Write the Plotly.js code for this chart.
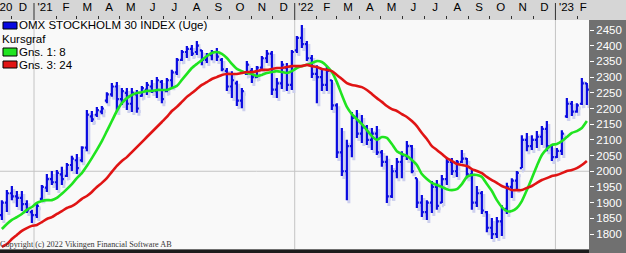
<!DOCTYPE html>
<html><head><meta charset="utf-8">
<script src="https://cdn.plot.ly/plotly-3.0.1.min.js"></script>
<style>html,body{margin:0;padding:0;background:#fff;overflow:hidden}#chart{width:626px;height:253px}</style>
</head><body><div id="chart"></div>
<script>
// ---- data (weekly bars, OMX Stockholm 30) ----
const seriesName = 'OMX STOCKHOLM 30 INDEX (Uge)';
const firstWeek = [2020, 10, 17]; // first weekly bar (UTC y, m0, d)
const high = [1908,1940,1953,1937,1937,1908,1877,1899,1956,1991,
  2001,2004,2014,2026,2049,2055,2080,2195,2192,2205,
  2208,2252,2281,2284,2265,2265,2265,2259,2272,2284,
  2291,2300,2291,2297,2323,2361,2386,2399,2402,2415,
  2386,2377,2386,2393,2361,2329,2319,2288,2265,2351,
  2329,2335,2367,2386,2383,2297,2351,2345,2386,2431,
  2466,2415,2370,2338,2329,2335,2291,2217,2138,2100,
  2189,2195,2179,2147,2138,2144,2068,2049,2020,2042,
  2064,2096,2084,1978,1924,1908,1969,1972,1988,2042,
  2042,2036,2068,2042,2004,1953,1937,1873,1851,1854,
  1892,1963,1978,2001,2115,2122,2115,2128,2144,2160,
  2084,2074,2131,2233,2224,2217,2297,2281];
const low = [1845,1870,1908,1886,1873,1867,1835,1851,1908,1934,
  1956,1940,1956,1982,2001,1991,2029,2064,2157,2173,
  2182,2217,2237,2189,2211,2195,2189,2186,2237,2243,
  2249,2233,2217,2252,2268,2307,2351,2361,2367,2370,
  2338,2345,2354,2351,2319,2256,2233,2208,2201,2307,
  2281,2297,2323,2345,2243,2233,2262,2256,2259,2377,
  2393,2351,2297,2217,2256,2256,2195,2042,1985,1908,
  2045,2106,2090,2084,2068,2052,2014,1899,1915,1978,
  1978,2036,1994,1883,1854,1845,1867,1877,1899,1956,
  1988,1982,2026,1978,1877,1886,1864,1806,1784,1787,
  1794,1864,1915,1940,2010,2064,2068,2074,2084,2064,
  2033,2042,2052,2170,2176,2186,2211,2211];
const open = [1860,1900,1930,1920,1915,1895,1870,1860,1912,1948,
  1975,1965,1990,1985,2020,2035,2035,2075,2175,2180,
  2190,2225,2245,2270,2230,2250,2215,2245,2240,2260,
  2270,2255,2285,2255,2290,2315,2355,2380,2390,2380,
  2385,2355,2370,2380,2355,2320,2270,2280,2225,2310,
  2320,2300,2330,2360,2375,2260,2280,2330,2275,2385,
  2425,2405,2360,2310,2300,2275,2290,2210,2060,2000,
  2080,2170,2120,2140,2100,2120,2060,2030,1920,2000,
  2030,2050,2080,1978,1900,1870,1900,1950,1900,1975,
  2030,2000,2030,2040,1990,1900,1930,1870,1820,1800,
  1840,1880,1950,1970,2010,2100,2080,2100,2110,2135,
  2080,2045,2065,2175,2215,2190,2215,2280];
const close = [1900,1930,1920,1915,1895,1875,1860,1890,1950,1975,
  1965,1995,1975,2020,2040,2010,2075,2180,2165,2195,
  2200,2245,2270,2230,2255,2215,2250,2200,2265,2275,
  2255,2290,2230,2290,2315,2355,2380,2390,2375,2400,
  2355,2370,2380,2365,2325,2270,2290,2225,2255,2340,
  2300,2330,2360,2375,2260,2280,2340,2275,2380,2425,
  2405,2360,2310,2300,2275,2320,2210,2060,2000,2080,
  2170,2120,2140,2100,2120,2060,2030,1920,2000,2030,
  2050,2080,2000,1900,1870,1900,1950,1890,1975,2030,
  2000,2030,2040,1990,1900,1930,1875,1820,1800,1840,
  1880,1950,1970,1995,2100,2080,2100,2110,2135,2080,
  2045,2065,2120,2215,2190,2210,2280,2260];
const ma8 = [1816,1832,1845,1854,1864,1877,1886,1899,1905,1908,
  1908,1915,1928,1943,1959,1978,1994,2017,2042,2068,
  2096,2128,2160,2192,2217,2233,2243,2249,2252,2256,
  2256,2259,2259,2259,2265,2272,2291,2310,2329,2342,
  2354,2367,2377,2380,2374,2361,2342,2326,2319,2313,
  2310,2303,2307,2313,2316,2319,2316,2313,2319,2329,
  2335,2339,2345,2351,2348,2335,2316,2284,2243,2205,
  2182,2166,2150,2131,2112,2100,2109,2106,2087,2064,
  2055,2049,2036,2020,1991,1975,1963,1956,1950,1943,
  1940,1943,1959,1982,1988,1988,1982,1959,1937,1908,
  1886,1873,1873,1883,1905,1940,1978,2017,2052,2071,
  2084,2087,2096,2109,2122,2128,2138,2160];
const ma24 = [1759,1768,1784,1797,1810,1819,1826,1829,1838,1848,
  1854,1864,1873,1883,1889,1899,1912,1921,1934,1950,
  1963,1978,1998,2017,2033,2045,2061,2077,2093,2109,
  2125,2141,2157,2173,2192,2205,2221,2237,2249,2262,
  2275,2284,2294,2300,2307,2310,2310,2310,2313,2316,
  2316,2319,2323,2323,2326,2329,2329,2332,2335,2335,
  2335,2339,2335,2332,2326,2323,2319,2307,2294,2281,
  2275,2272,2268,2259,2246,2233,2221,2208,2198,2192,
  2182,2173,2160,2144,2122,2103,2080,2068,2055,2042,
  2033,2023,2020,2017,2007,2001,1994,1982,1972,1963,
  1953,1947,1940,1940,1940,1947,1953,1963,1972,1978,
  1985,1988,1994,2001,2004,2010,2020,2033];
const yTicks = [1800,1850,1900,1950,2000,2050,2100,2150,2200,2250,2300,2350,2400,2450];
const refLevel = 2000;
const monthLabels = ['20','D',"'21",'F','M','A','M','J','J','A','S','O','N','D',
  "'22",'F','M','A','M','J','J','A','S','O','N','D',"'23",'F'];
const firstMonth = [2020, 10];
const legendLabels = ['Kursgraf', 'Gns. 1: 8', 'Gns. 3: 24'];
const copyright = 'Copyright (c) 2022 Vikingen Financial Software AB';

// ---- geometry / styles ----
const W = 626, H = 253, mL = 0, mR = 37, mT = 20, mB = 4;
const pw = W - mL - mR, ph = H - mT - mB;
const DAY = 86400000;
const xLeft = Date.UTC(2020, 10, 14, 9, 36), xRight = Date.UTC(2023, 1, 17);
const yLo = 1752.3, yHi = 2481.9;
const fmt = ms => new Date(ms).toISOString().slice(0, 19).replace('T', ' ');
const weekMs = Date.UTC(firstWeek[0], firstWeek[1], firstWeek[2]);
const weeks = close.map((_, i) => fmt(weekMs + 7 * i * DAY));

const tickVals = [], minorVals = [], yearStarts = [];
monthLabels.forEach((_, k) => {
  const s = Date.UTC(firstMonth[0], firstMonth[1] + k, 1);
  const e = Date.UTC(firstMonth[0], firstMonth[1] + k + 1, 1);
  const a = Math.max(s, xLeft), b = Math.min(e, xRight);
  tickVals.push(fmt((a + b) / 2));
  if (k > 0) {
    if (new Date(s).getUTCMonth() === 0) yearStarts.push(fmt(s)); else minorVals.push(fmt(s));
  }
});

const font = 'Liberation Sans, Arial, sans-serif';
const blue = '#0a0ae0', green = '#20e420', red = '#e01414', shadow = '#cdd0ee';
const shiftDays = 2 * 7 / 5 * DAY;           // 2 px to the right
const shiftVal = 3 * (yHi - yLo) / ph;        // 3 px down

const traces = [
  {type: 'scatter', x: [], y: [], xaxis: 'x', yaxis: 'y', showlegend: false, hoverinfo: 'skip'},
  {type: 'ohlc', x: weeks, open, high, low, close, xaxis: 'x2', yaxis: 'y2',
   increasing: {line: {color: shadow, width: 3}}, decreasing: {line: {color: shadow, width: 3}},
   tickwidth: 0.4, showlegend: false, hoverinfo: 'skip'},
  {type: 'ohlc', x: weeks, open, high, low, close, xaxis: 'x3', yaxis: 'y3', name: seriesName,
   increasing: {line: {color: blue, width: 2.2}}, decreasing: {line: {color: blue, width: 2.2}},
   tickwidth: 0.4, showlegend: false, hoverinfo: 'skip'},
  {type: 'scatter', mode: 'lines', x: weeks, y: ma8, xaxis: 'x3', yaxis: 'y3', name: legendLabels[1],
   line: {color: green, width: 2.6, shape: 'spline', smoothing: 0.6}, showlegend: false, hoverinfo: 'skip'},
  {type: 'scatter', mode: 'lines', x: weeks, y: ma24, xaxis: 'x3', yaxis: 'y3', name: legendLabels[2],
   line: {color: red, width: 2.6, shape: 'spline', smoothing: 0.6}, showlegend: false, hoverinfo: 'skip'}
];

const px2x = p => p / pw, px2y = p => (H - mB - p) / ph;
const shapes = [
  {type: 'rect', xref: 'paper', yref: 'paper', x0: -0.01, x1: W / pw + 0.01, y0: 1, y1: 1 + mT / ph + 0.01,
   fillcolor: '#d6d6d6', line: {width: 0}, layer: 'below'},
  {type: 'rect', xref: 'paper', yref: 'paper', x0: 0, x1: 1, y0: -mB / ph, y1: -1 / ph,
   fillcolor: '#1c1c1c', line: {width: 0}, layer: 'below'},
  {type: 'line', xref: 'paper', yref: 'y', x0: 0, x1: 1, y0: refLevel, y1: refLevel,
   line: {color: '#c4c4c4', width: 1}, layer: 'below'}
];
yearStarts.forEach(d => {
  shapes.push({type: 'line', xref: 'x', yref: 'paper', x0: d, x1: d, y0: 0, y1: 1,
    line: {color: '#c4c4c4', width: 1}, layer: 'below'});
  shapes.push({type: 'line', xref: 'x', yref: 'paper', x0: d, x1: d, y0: 1, y1: 1 + 17 / ph,
    line: {color: '#303030', width: 1}, layer: 'above'});
});
[[22, 29, blue], [48, 56, green], [61, 68, red]].forEach(([t, b, c]) => {
  shapes.push({type: 'rect', xref: 'paper', yref: 'paper', x0: px2x(3), x1: px2x(17), y0: px2y(b), y1: px2y(t),
    fillcolor: c, line: {color: '#000', width: 1}, layer: 'above'});
});

const ann = (text, xp, yp, extra) => Object.assign({text, xref: 'paper', yref: 'paper', x: px2x(xp), y: px2y(yp),
  xanchor: 'left', yanchor: 'middle', showarrow: false, borderpad: 0,
  font: {family: font, size: 11.5, color: '#000'}}, extra || {});
const annotations = [
  ann(seriesName, 18, 25),
  ann(legendLabels[0], 1, 38.5),
  ann(legendLabels[1], 18, 51.5),
  ann(legendLabels[2], 18, 65),
  ann(copyright, -1, 244, {font: {family: 'Liberation Serif, Times New Roman, serif', size: 8.2, color: '#383838'}})
];

const layout = {
  width: W, height: H, margin: {l: mL, r: mR, t: mT, b: mB, pad: 0},
  paper_bgcolor: '#707070', plot_bgcolor: '#f9f9f9', showlegend: false,
  xaxis: {type: 'date', range: [fmt(xLeft), fmt(xRight)], side: 'top', anchor: 'y',
    tickmode: 'array', tickvals: tickVals, ticktext: monthLabels, ticklabeloverflow: 'allow',
    ticks: 'outside', ticklen: 3, tickcolor: 'rgba(0,0,0,0)',
    minor: {tickmode: 'array', tickvals: minorVals, ticks: 'outside', ticklen: 3, tickcolor: '#333', tickwidth: 1, showgrid: false},
    showgrid: false, zeroline: false, showline: false, fixedrange: true,
    tickfont: {family: font, size: 11.5, color: '#000'}, rangeslider: {visible: false}},
  yaxis: {side: 'right', range: [yLo, yHi], anchor: 'x', tickmode: 'array', tickvals: yTicks,
    ticks: 'outside', ticklen: 4, tickcolor: '#fff', tickwidth: 1,
    showgrid: false, zeroline: false, showline: false, fixedrange: true,
    tickfont: {family: font, size: 11.5, color: '#fff'}},
  xaxis2: {type: 'date', overlaying: 'x', anchor: 'y2', visible: false, rangeslider: {visible: false},
    range: [fmt(xLeft - shiftDays), fmt(xRight - shiftDays)], fixedrange: true},
  yaxis2: {overlaying: 'y', anchor: 'x2', visible: false, range: [yLo + shiftVal, yHi + shiftVal], fixedrange: true},
  xaxis3: {type: 'date', overlaying: 'x', anchor: 'y3', visible: false, rangeslider: {visible: false},
    range: [fmt(xLeft), fmt(xRight)], fixedrange: true},
  yaxis3: {overlaying: 'y', anchor: 'x3', visible: false, range: [yLo, yHi], fixedrange: true},
  shapes, annotations
};

Plotly.newPlot('chart', traces, layout, {staticPlot: true, displayModeBar: false});
</script></body></html>
